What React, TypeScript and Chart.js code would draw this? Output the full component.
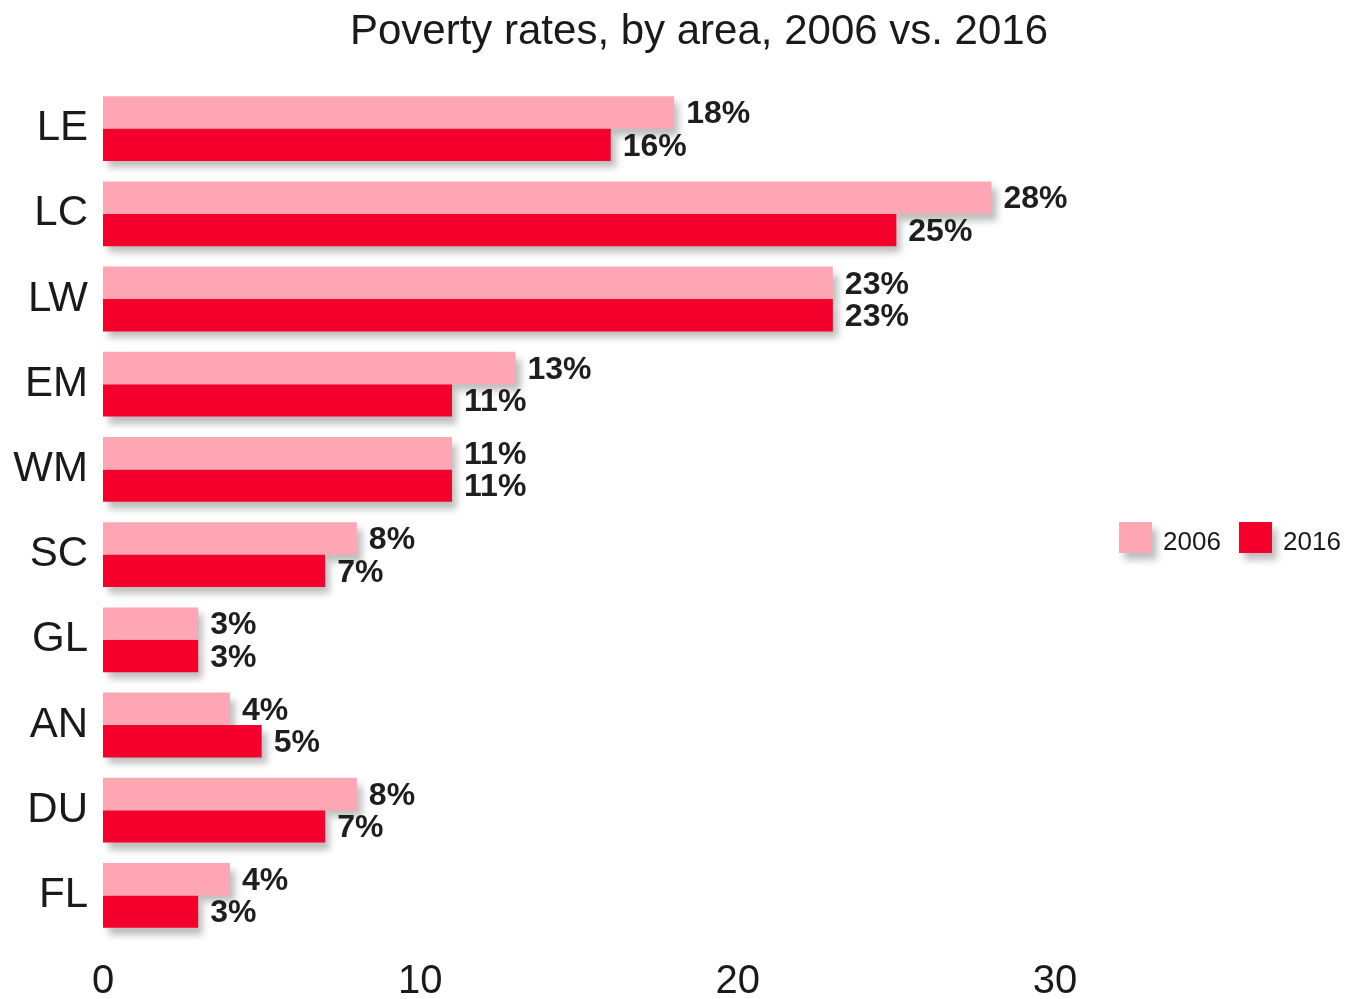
import React, { useEffect, useRef } from "react";
import { Chart, registerables } from "chart.js";

Chart.register(...registerables);

const categories = ["LE", "LC", "LW", "EM", "WM", "SC", "GL", "AN", "DU", "FL"];
const values2006 = [18, 28, 23, 13, 11, 8, 3, 4, 8, 4];
const values2016 = [16, 25, 23, 11, 11, 7, 3, 5, 7, 3];
const seriesLabels = ["2006", "2016"];
const xTicks = [0, 10, 20, 30];
const titleText = "Poverty rates, by area, 2006 vs. 2016";

const PINK = "#FFA6B5";
const RED = "#F5002D";
const FONT = "'Liberation Sans', Arial, Helvetica, sans-serif";

function shadowRect(ctx: any, x: number, y: number, w: number, h: number) {
  const OFF = 5000;
  ctx.save();
  ctx.shadowColor = "rgba(0,0,0,0.26)";
  ctx.shadowBlur = 7;
  ctx.shadowOffsetX = OFF + 5;
  ctx.shadowOffsetY = 7;
  ctx.fillStyle = "#000";
  ctx.fillRect(x - OFF, y, w, h);
  ctx.restore();
}

const shadowPlugin = {
  id: "barShadow",
  beforeDatasetsDraw(chart: any) {
    const ctx = chart.ctx;
    chart.data.datasets.forEach((_ds: any, di: number) => {
      const meta = chart.getDatasetMeta(di);
      meta.data.forEach((bar: any) => {
        const { x, y, base, height } = bar.getProps(["x", "y", "base", "height"], true);
        const left = Math.min(x, base);
        const w = Math.abs(x - base);
        shadowRect(ctx, left, y - height / 2, w, height);
      });
    });
  },
};

const labelsPlugin = {
  id: "valueLabels",
  afterDatasetsDraw(chart: any) {
    const ctx = chart.ctx;
    ctx.save();
    ctx.font = `bold 32px ${FONT}`;
    ctx.fillStyle = "#1e1e1e";
    ctx.textAlign = "left";
    ctx.textBaseline = "middle";
    chart.data.datasets.forEach((ds: any, di: number) => {
      const meta = chart.getDatasetMeta(di);
      meta.data.forEach((bar: any, i: number) => {
        ctx.fillText(`${ds.data[i]}%`, bar.x + 12, bar.y + 2);
      });
    });
    ctx.restore();
  },
};

const titleLegendPlugin = {
  id: "titleLegend",
  afterDraw(chart: any) {
    const ctx = chart.ctx;
    ctx.save();
    ctx.font = `42px ${FONT}`;
    ctx.fillStyle = "#1a1a1a";
    ctx.textAlign = "center";
    ctx.textBaseline = "middle";
    ctx.fillText(titleText, 699, 32);

    const items = chart.data.datasets.map((d: any) => ({ label: d.label, color: d.backgroundColor }));
    let x = 1119;
    const y = 522;
    items.forEach((it: any) => {
      shadowRect(ctx, x, y, 33, 31);
      ctx.fillStyle = it.color;
      ctx.fillRect(x, y, 33, 31);
      ctx.font = `26px ${FONT}`;
      ctx.fillStyle = "#1a1a1a";
      ctx.textAlign = "left";
      ctx.textBaseline = "middle";
      ctx.fillText(it.label, x + 44, y + 21);
      x += 120;
    });
    ctx.restore();
  },
};

export default function App() {
  const canvasRef = useRef<HTMLCanvasElement | null>(null);

  useEffect(() => {
    if (!canvasRef.current) return;
    const chart = new Chart(canvasRef.current, {
      type: "bar",
      data: {
        labels: categories,
        datasets: [
          { label: seriesLabels[0], data: values2006, backgroundColor: PINK, borderWidth: 0 },
          { label: seriesLabels[1], data: values2016, backgroundColor: RED, borderWidth: 0 },
        ],
      },
      options: {
        indexAxis: "y",
        animation: false,
        responsive: false,
        maintainAspectRatio: false,
        layout: { padding: { top: 86, right: 244, left: 0, bottom: 0 } },
        datasets: { bar: { categoryPercentage: 0.76, barPercentage: 1.0 } },
        plugins: {
          legend: { display: false },
          title: { display: false },
          tooltip: { enabled: false },
        },
        scales: {
          x: {
            type: "linear",
            min: 0,
            max: 31.45,
            grid: { display: false, drawTicks: false },
            border: { display: false },
            afterBuildTicks: (scale: any) => {
              scale.ticks = xTicks.map((v) => ({ value: v }));
            },
            afterFit: (scale: any) => {
              scale.height = 61;
            },
            ticks: {
              font: { family: FONT, size: 40 },
              color: "#1a1a1a",
              padding: 20,
              maxRotation: 0,
              callback: (v: any) => String(v),
            },
          },
          y: {
            grid: { display: false, drawTicks: false },
            border: { display: false },
            afterFit: (scale: any) => {
              scale.width = 103;
            },
            ticks: {
              font: { family: FONT, size: 42 },
              color: "#1a1a1a",
              padding: 15,
            },
          },
        },
      },
      plugins: [shadowPlugin, labelsPlugin, titleLegendPlugin],
    });
    return () => chart.destroy();
  }, []);

  return (
    <div style={{ position: "fixed", left: 0, top: 0, width: 1345, height: 999, background: "#fff" }}>
      <canvas ref={canvasRef} width={1345} height={999} style={{ width: 1345, height: 999 }} />
    </div>
  );
}
